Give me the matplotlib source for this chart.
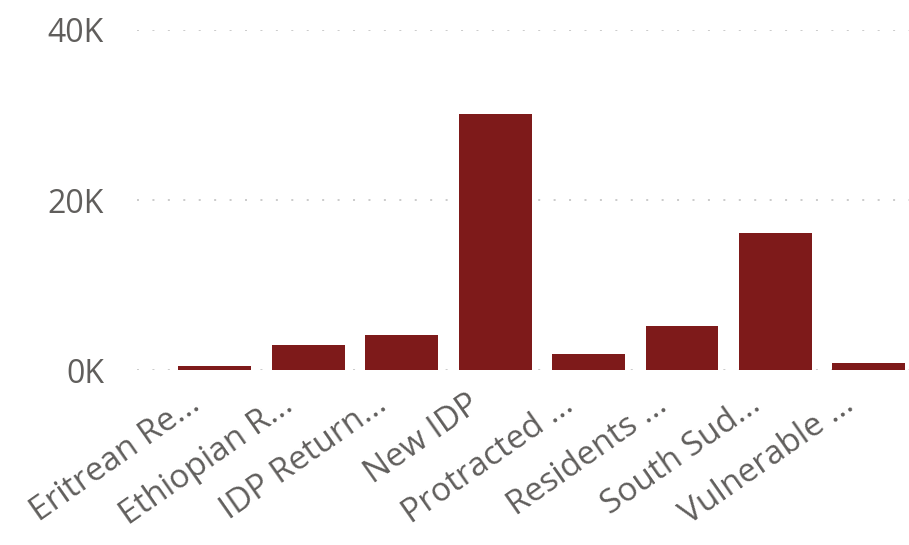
import matplotlib
matplotlib.use("Agg")
import matplotlib.pyplot as plt
import matplotlib.transforms as mtransforms
from matplotlib.ticker import FuncFormatter

categories = ["Eritrean Re...", "Ethiopian R...", "IDP Return...", "New IDP",
              "Protracted ...", "Residents ...", "South Sud...", "Vulnerable ..."]
values = [470, 2900, 4100, 30100, 1900, 5200, 16100, 860]

BAR_COLOR = "#7E1A1A"
TEXT_COLOR = "#605E5C"

plt.rcParams["font.family"] = ["Open Sans", "DejaVu Sans"]

fig = plt.figure(figsize=(9.09, 5.45), dpi=100)
ax = fig.add_axes([0.151, 0.321, 0.849, 0.624])

x = range(len(categories))
ax.bar(x, values, width=0.78, color=BAR_COLOR, zorder=3)

ax.set_xlim(-0.83, 7.43)
ax.set_ylim(0, 40000)
ax.set_yticks([0, 20000, 40000])
ax.yaxis.set_major_formatter(FuncFormatter(lambda v, p: f"{int(v / 1000)}K"))
ax.grid(True, axis="y", color="#BDBDBD", linestyle=(0, (1.3, 8.8)), linewidth=1.1, zorder=0)
ax.set_axisbelow(True)

ax.set_xticks(list(x))
ax.set_xticklabels(categories, rotation=35, ha="right", va="top", rotation_mode="anchor")
ax.tick_params(axis="x", length=0, pad=13, labelsize=24, colors=TEXT_COLOR)
ax.tick_params(axis="y", length=0, pad=24, labelsize=23, colors=TEXT_COLOR)

# shift the rotated labels a bit left, like the original
shift = mtransforms.ScaledTranslation(-0.28, 0, fig.dpi_scale_trans)
for lbl in ax.get_xticklabels():
    lbl.set_transform(lbl.get_transform() + shift)

for s in ax.spines.values():
    s.set_visible(False)

fig.savefig("out.png", dpi=100)
